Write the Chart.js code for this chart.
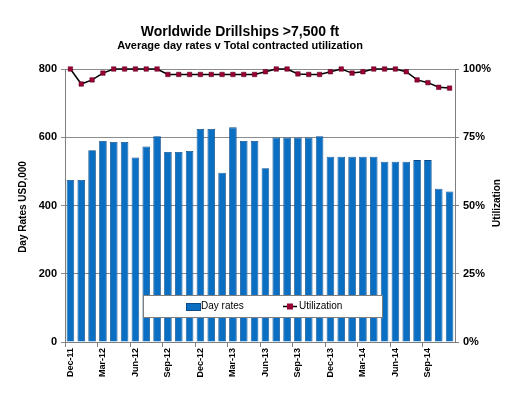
<!DOCTYPE html>
<html lang="en">
<head>
    <meta charset="UTF-8">
    <title>Worldwide Drillships</title>
    <script src="https://cdn.jsdelivr.net/npm/chart.js"></script>
    <style>
        body { margin: 0; background: #fff; }
        .chart-container { position: relative; width: 525px; height: 394px; }
    </style>
</head>
<body>
    <div class="chart-container">
        <canvas id="drillChart" width="525" height="394"></canvas>
    </div>

    <script>
        // Data
        const months = [
            'Dec-11', 'Jan-12', 'Feb-12', 'Mar-12', 'Apr-12', 'May-12', 'Jun-12', 'Jul-12', 'Aug-12',
            'Sep-12', 'Oct-12', 'Nov-12', 'Dec-12', 'Jan-13', 'Feb-13', 'Mar-13', 'Apr-13', 'May-13',
            'Jun-13', 'Jul-13', 'Aug-13', 'Sep-13', 'Oct-13', 'Nov-13', 'Dec-13', 'Jan-14', 'Feb-14',
            'Mar-14', 'Apr-14', 'May-14', 'Jun-14', 'Jul-14', 'Aug-14', 'Sep-14', 'Oct-14', 'Nov-14'
        ];
        const dayRates = [
            475, 475, 562, 589, 586, 586, 541, 573, 603,
            557, 557, 560, 624, 624, 496, 629, 589, 589,
            509, 599, 599, 599, 599, 603, 543, 543, 543,
            543, 543, 528, 528, 528, 533, 533, 449, 441
        ];
        const utilization = [
            100, 94.5, 96, 98.5, 100, 100, 100, 100, 100,
            98, 98, 98, 98, 98, 98, 98, 98, 98,
            99, 100, 100, 98.2, 98, 98, 99, 100, 98.5,
            99, 100, 100, 100, 99, 96, 95, 93.3, 93
        ];
        const rateTicks = [0, 200, 400, 600, 800];
        const utilTicks = [0, 25, 50, 75, 100];

        const FONT = '"Liberation Sans", Arial, sans-serif';
        const BAR_BLUE = '#0a6fc2';
        const BAR_EDGE = '#0b4a86';
        const MARKER = '#990033';

        // Titles, axis titles and the inset legend are drawn by hand
        const decorations = {
            id: 'decorations',
            afterDraw(chart) {
                const c = chart.ctx;
                c.save();
                c.fillStyle = '#000';
                c.textAlign = 'center';
                c.textBaseline = 'middle';
                c.font = 'bold 14px ' + FONT;
                c.fillText('Worldwide Drillships >7,500 ft', 240, 32);
                c.font = 'bold 11px ' + FONT;
                c.fillText('Average day rates v Total contracted utilization', 240, 46);

                c.font = 'bold 10px ' + FONT;
                c.save();
                c.translate(23, 207);
                c.rotate(-Math.PI / 2);
                c.fillText('Day Rates USD,000', 0, 0);
                c.restore();
                c.save();
                c.translate(497, 203);
                c.rotate(-Math.PI / 2);
                c.fillText('Utilization', 0, 0);
                c.restore();

                // legend box
                c.fillStyle = '#fff';
                c.fillRect(143, 295, 239, 22);
                c.strokeStyle = '#7f7f7f';
                c.lineWidth = 1;
                c.strokeRect(143.5, 295.5, 239, 22);

                c.fillStyle = BAR_BLUE;
                c.fillRect(186, 303, 14, 7);
                c.strokeStyle = BAR_EDGE;
                c.strokeRect(186.5, 303.5, 14, 7);

                c.strokeStyle = '#000';
                c.lineWidth = 1.5;
                c.beginPath();
                c.moveTo(283, 306.5);
                c.lineTo(297, 306.5);
                c.stroke();
                c.fillStyle = MARKER;
                c.fillRect(287, 303.5, 6, 6);

                c.fillStyle = '#000';
                c.textAlign = 'left';
                c.font = '10px ' + FONT;
                c.fillText('Day rates', 201, 306.5);
                c.fillText('Utilization', 299, 306.5);
                c.restore();
            }
        };

        const ctx = document.getElementById('drillChart').getContext('2d');
        new Chart(ctx, {
            data: {
                labels: months,
                datasets: [
                    {
                        type: 'line',
                        label: 'Utilization',
                        data: utilization,
                        yAxisID: 'y1',
                        order: 0,
                        clip: false,
                        borderColor: '#000',
                        borderWidth: 1.5,
                        pointStyle: 'rect',
                        pointRadius: 3.2,
                        pointBackgroundColor: MARKER,
                        pointBorderColor: '#5a0020',
                        pointBorderWidth: 0.5,
                        tension: 0
                    },
                    {
                        type: 'bar',
                        label: 'Day rates',
                        data: dayRates,
                        yAxisID: 'y',
                        order: 1,
                        backgroundColor: BAR_BLUE,
                        borderColor: BAR_EDGE,
                        borderWidth: 0.8,
                        categoryPercentage: 1.0,
                        barPercentage: 0.7
                    }
                ]
            },
            options: {
                responsive: false,
                animation: false,
                layout: { padding: { top: 69 } },
                plugins: {
                    legend: { display: false },
                    tooltip: { enabled: false },
                    title: { display: false }
                },
                scales: {
                    x: {
                        offset: true,
                        grid: {
                            offset: true,
                            drawOnChartArea: false,
                            tickLength: 5,
                            color: c => (c.index % 3 === 0 ? '#7f7f7f' : 'rgba(0,0,0,0)')
                        },
                        border: { color: '#7f7f7f' },
                        ticks: {
                            autoSkip: false,
                            maxRotation: 90,
                            minRotation: 90,
                            padding: 1,
                            color: '#000',
                            font: { family: FONT, size: 9, weight: 'bold' },
                            callback: (v, i) => (i % 3 === 0 ? months[i] : '')
                        },
                        afterFit: s => { s.height = 52; }
                    },
                    y: {
                        position: 'left',
                        min: 0,
                        max: 800,
                        afterBuildTicks: s => { s.ticks = rateTicks.map(v => ({ value: v })); },
                        grid: { color: '#8c8c8c', tickLength: 4 },
                        border: { color: '#7f7f7f' },
                        ticks: {
                            color: '#000',
                            padding: 4,
                            font: { family: FONT, size: 11, weight: 'bold' }
                        },
                        afterFit: s => { s.width = 65; }
                    },
                    y1: {
                        position: 'right',
                        min: 0,
                        max: 100,
                        afterBuildTicks: s => { s.ticks = utilTicks.map(v => ({ value: v })); },
                        grid: { drawOnChartArea: false, color: '#7f7f7f', tickLength: 4 },
                        border: { color: '#7f7f7f' },
                        ticks: {
                            color: '#000',
                            padding: 4,
                            font: { family: FONT, size: 11, weight: 'bold' },
                            callback: v => v + '%'
                        },
                        afterFit: s => { s.width = 70; }
                    }
                }
            },
            plugins: [decorations]
        });
    </script>
</body>
</html>
